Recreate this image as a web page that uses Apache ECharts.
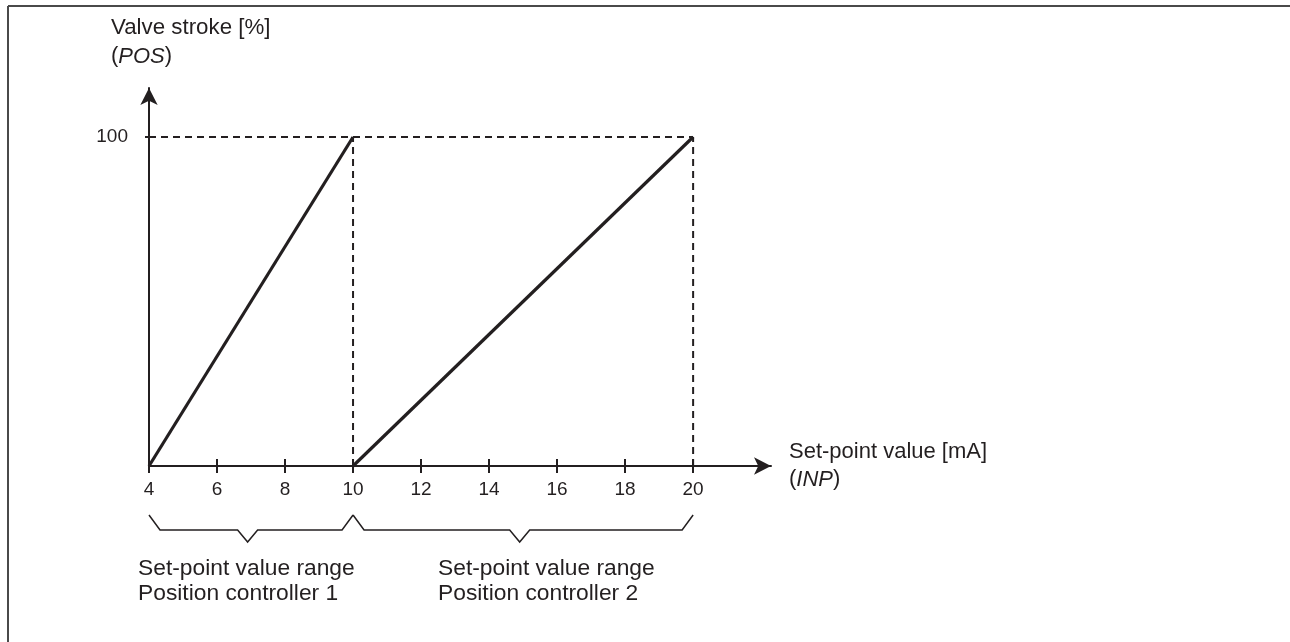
<!DOCTYPE html>
<html>
<head>
<meta charset="utf-8">
<script src="https://cdn.jsdelivr.net/npm/echarts@6/dist/echarts.min.js"></script>
<style>
  html, body { margin: 0; padding: 0; background: #fff; }
  #chart { width: 1290px; height: 642px; }
</style>
</head>
<body>
<div id="chart"></div>
<script>
// Split-range operation: two position controllers share one 4–20 mA set-point signal
const xTicks = [4, 6, 8, 10, 12, 14, 16, 18, 20];
const yTicks = [100];
const controller1 = [[4, 0], [10, 100]];
const controller2 = [[10, 0], [20, 100]];
const guideTop = [[4, 100], [20, 100]];
const guide10 = [[10, 0], [10, 100]];
const guide20 = [[20, 0], [20, 100]];
// brace ranges under the axis: [from, to, notch position] in mA
const braceRanges = [[4, 10, 6.9], [10, 20, 14.9]];
const braceLabels = [
  ['Set-point value range', 'Position controller 1'],
  ['Set-point value range', 'Position controller 2']
];

const INK = '#231f20';
const FONT = '"Liberation Sans", Arial, Helvetica, sans-serif';
const TICK_SIZE = 19;
const TEXT_SIZE = 22;
const X_MAX = 22.29;
const Y_MAX = 114.9;

const chart = echarts.init(document.getElementById('chart'), null, { renderer: 'canvas' });

const solid = { color: INK, width: 3.2 };
const dashed = { color: INK, width: 2, type: [7, 5] };

function lineSeries(data, style) {
  return {
    type: 'line', data: data, symbol: 'none', silent: true,
    lineStyle: style, clip: false, z: 3
  };
}

chart.setOption({
  animation: false,
  backgroundColor: '#fff',
  grid: { left: 149, right: 519, top: 88, bottom: 176, containLabel: false },
  xAxis: [
    {
      type: 'value', min: 4, max: X_MAX, position: 'bottom',
      axisLine: { show: true, symbol: ['none', 'arrow'], symbolSize: [13, 17],
        lineStyle: { color: INK, width: 2 } },
      axisTick: { show: true, customValues: xTicks, length: 7, inside: false,
        lineStyle: { color: INK, width: 2 } },
      axisLabel: { customValues: xTicks, margin: 14, fontSize: TICK_SIZE,
        fontFamily: FONT, color: INK },
      splitLine: { show: false }
    },
    {
      type: 'value', min: 4, max: X_MAX, position: 'bottom', offset: 0,
      axisLine: { show: false },
      axisTick: { show: true, customValues: xTicks, length: 7, inside: true,
        lineStyle: { color: INK, width: 2 } },
      axisLabel: { show: false },
      splitLine: { show: false }
    }
  ],
  yAxis: {
    type: 'value', min: 0, max: Y_MAX,
    axisLine: { show: true, symbol: ['none', 'arrow'], symbolSize: [13, 17],
      lineStyle: { color: INK, width: 2 } },
    axisTick: { show: true, customValues: yTicks, length: 4,
      lineStyle: { color: INK, width: 2 } },
    axisLabel: { customValues: yTicks, margin: 21, fontSize: TICK_SIZE,
      fontFamily: FONT, color: INK },
    splitLine: { show: false }
  },
  series: [
    lineSeries(guideTop, dashed),
    lineSeries(guide10, dashed),
    lineSeries(guide20, dashed),
    lineSeries(controller1, solid),
    lineSeries(controller2, solid)
  ]
});

// Frame, axis names and brace annotations
const axisY = chart.convertToPixel({ xAxisIndex: 0, yAxisIndex: 0 }, [4, 0])[1];
const px = (v) => chart.convertToPixel({ xAxisIndex: 0 }, v);
const mid = (baseline, size) => baseline - 0.3465 * size;

function textEl(x, baseline, text, size, rich) {
  return {
    type: 'text', silent: true, z: 10,
    style: {
      x: x, y: mid(baseline, size), text: text,
      fontSize: size, fontFamily: FONT, fill: INK,
      verticalAlign: 'middle', align: 'left',
      rich: rich || {}
    }
  };
}

const italic = { it: { fontStyle: 'italic', fontSize: TEXT_SIZE, fontFamily: FONT, fill: INK } };

const graphics = [
  { type: 'line', silent: true, shape: { x1: 8, y1: 6, x2: 1290, y2: 6 },
    style: { stroke: '#4a4a4a', lineWidth: 2 } },
  { type: 'line', silent: true, shape: { x1: 8, y1: 6, x2: 8, y2: 642 },
    style: { stroke: '#4a4a4a', lineWidth: 2 } },
  textEl(111, 36, 'Valve stroke [%]', 22.3),
  textEl(111, 64, '({it|POS})', TEXT_SIZE, italic),
  textEl(789, 460, 'Set-point value [mA]', TEXT_SIZE),
  textEl(789, 487, '({it|INP})', TEXT_SIZE, italic)
];

const topY = axisY + 49, barY = axisY + 64, dipY = axisY + 76;
braceRanges.forEach(function (r) {
  const a = px(r[0]), b = px(r[1]), m = px(r[2]);
  graphics.push({
    type: 'polyline', silent: true,
    shape: { points: [[a, topY], [a + 11, barY], [m - 10, barY], [m, dipY],
      [m + 10, barY], [b - 11, barY], [b, topY]] },
    style: { stroke: INK, lineWidth: 1.5, fill: null }
  });
});
const LABEL_SIZE = 22.8;
graphics.push(textEl(138, 577, braceLabels[0][0], LABEL_SIZE));
graphics.push(textEl(138, 602, braceLabels[0][1], LABEL_SIZE));
graphics.push(textEl(438, 577, braceLabels[1][0], LABEL_SIZE));
graphics.push(textEl(438, 602, braceLabels[1][1], LABEL_SIZE));

chart.setOption({ graphic: graphics });
</script>
</body>
</html>
